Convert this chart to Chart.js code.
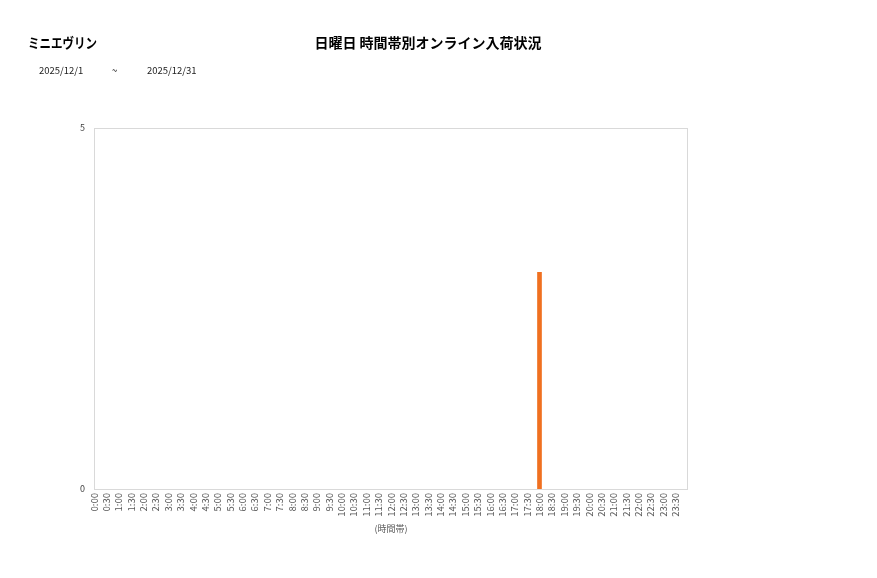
<!DOCTYPE html>
<html>
<head>
<meta charset="utf-8">
<script src="https://cdn.jsdelivr.net/npm/chart.js@4/dist/chart.umd.min.js"></script>
<style>
  html, body { margin: 0; padding: 0; background: #fff; }
  #wrap { width: 877px; height: 578px; position: relative; }
</style>
</head>
<body>
<div id="wrap"><canvas id="chart"></canvas></div>
<script>
var shopName = 'ミニエヴリン';
var chartTitle = '日曜日 時間帯別オンライン入荷状況';
var dateFrom = '2025/12/1';
var dateTo = '2025/12/31';

var timeLabels = ['0:00','0:30','1:00','1:30','2:00','2:30','3:00','3:30','4:00','4:30',
  '5:00','5:30','6:00','6:30','7:00','7:30','8:00','8:30','9:00','9:30',
  '10:00','10:30','11:00','11:30','12:00','12:30','13:00','13:30','14:00','14:30',
  '15:00','15:30','16:00','16:30','17:00','17:30','18:00','18:30','19:00','19:30',
  '20:00','20:30','21:00','21:30','22:00','22:30','23:00','23:30'];
var arrivals = [0,0,0,0,0,0,0,0,0,0,
  0,0,0,0,0,0,0,0,0,0,
  0,0,0,0,0,0,0,0,0,0,
  0,0,0,0,0,0,3,0,0,0,
  0,0,0,0,0,0,0,0];
var yTicks = [0, 5];

var jpFont = "'Noto Sans CJK JP', 'Noto Sans', sans-serif";

// header texts + frame around plot area
var header_plug = {
  id: 'header',
  afterDraw: function(chart) {
    var ctx = chart.ctx,
        area = chart.chartArea;
    ctx.save();
    ctx.strokeStyle = '#d9d9d9';
    ctx.lineWidth = 1;
    ctx.strokeRect(area.left + 0.5, area.top + 0.5, area.right - area.left - 1, area.bottom - area.top);

    ctx.fillStyle = '#000';
    ctx.textBaseline = 'middle';
    ctx.font = "bold 14px " + jpFont;
    ctx.textAlign = 'center';
    ctx.fillText(chartTitle, 428, 43);

    // shop name is narrow in the original, squeeze it a bit
    ctx.save();
    ctx.textAlign = 'left';
    var w = ctx.measureText(shopName).width;
    ctx.translate(28, 43);
    ctx.scale(69 / w, 1);
    ctx.fillText(shopName, 0, 0);
    ctx.restore();

    ctx.font = "9.5px " + jpFont;
    ctx.fillStyle = '#222';
    ctx.textAlign = 'left';
    ctx.fillText(dateFrom, 39, 70);
    ctx.fillText('~', 112, 70);
    ctx.fillText(dateTo, 147, 70);
    ctx.restore();
  }
};

// zero hours draw nothing
var points = arrivals.map(function(v, i) { return {x: i, y: v === 0 ? null : v}; });

var ctx = document.getElementById('chart').getContext('2d');
var chart = new Chart(ctx, {
  type: 'bar',
  plugins: [header_plug],
  data: {
    datasets: [{
      label: '入荷数',
      data: points,
      backgroundColor: '#f07020',
      borderWidth: 0,
      barThickness: 4
    }]
  },
  options: {
    responsive: true,
    maintainAspectRatio: false,
    animation: false,
    events: [],
    layout: { padding: { left: 0, right: 189, top: 128, bottom: 0 } },
    plugins: {
      legend: { display: false },
      tooltip: { enabled: false }
    },
    scales: {
      x: {
        type: 'linear',
        min: 0,
        max: timeLabels.length,
        offset: false,
        grid: { display: false, drawTicks: false },
        border: { display: false },
        afterBuildTicks: function(scale) {
          scale.ticks = timeLabels.map(function(l, i) { return {value: i}; });
        },
        afterFit: function(scale) { scale.height = 89; },
        ticks: {
          autoSkip: false,
          minRotation: 90,
          maxRotation: 90,
          padding: 4,
          color: '#595959',
          font: { size: 9.5, family: jpFont },
          callback: function(v) { return timeLabels[v] || ''; }
        },
        title: {
          display: true,
          text: '(時間帯)',
          color: '#595959',
          font: { size: 9, family: jpFont },
          padding: { top: 0, bottom: 44 }
        }
      },
      y: {
        min: 0,
        max: 5,
        grid: { display: false, drawTicks: false },
        border: { display: false },
        afterBuildTicks: function(scale) {
          scale.ticks = yTicks.map(function(v) { return {value: v}; });
        },
        afterFit: function(scale) { scale.width = 94; },
        ticks: {
          padding: 9,
          color: '#404040',
          font: { size: 9, family: jpFont }
        }
      }
    }
  }
});
</script>
</body>
</html>
